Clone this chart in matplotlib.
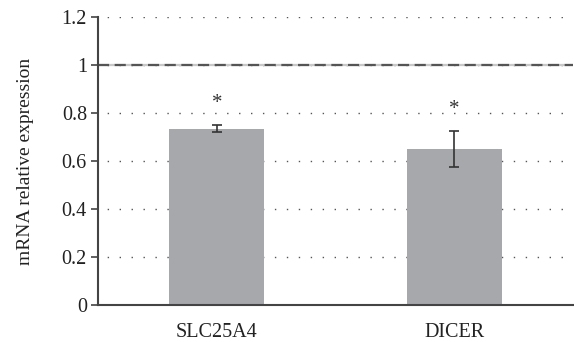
import matplotlib
matplotlib.use("Agg")
import matplotlib.pyplot as plt
import numpy as np

genes = ["SLC25A4", "DICER"]
expression = [0.735, 0.65]
errors = [0.016, 0.073]
significant = ["*", "*"]
yticks = [0, 0.2, 0.4, 0.6, 0.8, 1.0, 1.2]
ytick_labels = ["0", "0.2", "0.4", "0.6", "0.8", "1", "1.2"]
control_level = 1.0

plt.rcParams["font.family"] = ["Liberation Serif", "DejaVu Serif"]

fig = plt.figure(figsize=(5.74, 3.42), dpi=100)
ax = fig.add_axes([98 / 574, 37 / 342, 475 / 574, 288 / 342])

x = np.arange(len(genes))

# dotted grid lines behind the bars
for y in yticks[1:]:
    ax.axhline(y, color="#555555", lw=1.0, ls=(2, (1, 7.6)), zorder=0)

# reference level: light band with dark dashes on top
ax.axhline(control_level, color="#c8c8c8", lw=1.6, zorder=1)
ax.axhline(control_level, color="#555555", lw=1.6, ls=(0, (5, 2.5)), zorder=1.1)

ax.bar(x, expression, width=0.4, color="#a7a8ab", zorder=2)
ax.errorbar(x, expression, yerr=errors, fmt="none", ecolor="#333333",
            elinewidth=1.2, capsize=3.5, capthick=1.2, zorder=3)

for xi, v, e, s in zip(x, expression, errors, significant):
    ax.text(xi, v + e + 0.05, s, ha="center", va="bottom",
            fontsize=15, color="#333333")

ax.set_xlim(-0.5, 1.5)
ax.set_ylim(0, 1.2)
ax.set_xticks(x)
ax.set_xticklabels(genes, fontsize=14.5, color="#222222")
ax.set_yticks(yticks)
ax.set_yticklabels(ytick_labels, fontsize=14.5, color="#222222")
ax.tick_params(axis="x", length=0, pad=13)
ax.tick_params(axis="y", length=5, width=1.2, color="#444444", pad=3)
ax.set_ylabel("mRNA relative expression", fontsize=14, color="#222222", labelpad=20)

for side in ["top", "right"]:
    ax.spines[side].set_visible(False)
for side in ["left", "bottom"]:
    ax.spines[side].set_color("#444444")
    ax.spines[side].set_linewidth(1.5)

fig.savefig("out.png", dpi=100)
